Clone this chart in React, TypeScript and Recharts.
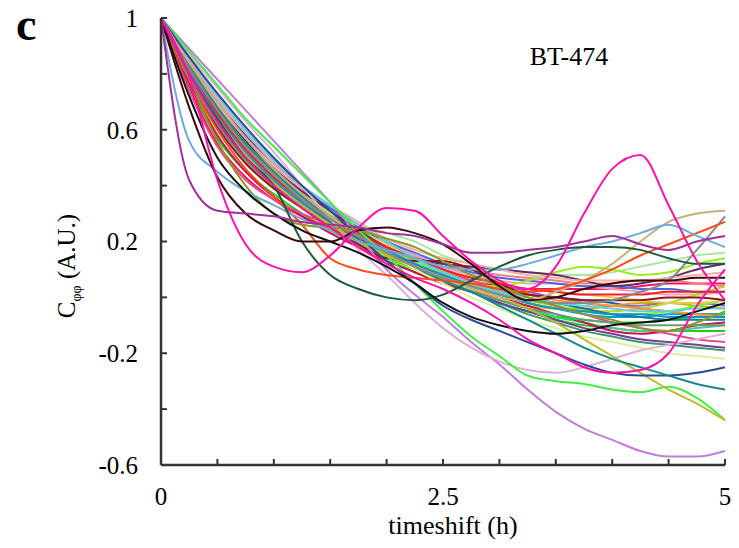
import { LineChart, Line, XAxis, YAxis } from "recharts";

const TIMES = [
  0, 0.25, 0.5, 0.75, 1, 1.25, 1.5, 1.75, 2, 2.25, 2.5, 2.75, 3, 3.25, 3.5,
  3.75, 4, 4.25, 4.5, 4.75, 5,
];

const X_TICKS = [0, 0.5, 1, 1.5, 2, 2.5, 3, 3.5, 4, 4.5, 5];
const X_LABELS = ["0", "2.5", "5"];
const Y_TICKS = [-0.6, -0.4, -0.2, 0, 0.2, 0.4, 0.6, 0.8, 1];
const Y_LABELS = ["-0.6", "-0.2", "0.2", "0.6", "1"];

// the bulk of cells, drawn first
const BULK_VALUES: number[][] = [
  [1, 0.85, 0.7, 0.58, 0.48, 0.39, 0.32, 0.25, 0.2, 0.15, 0.1, 0.06, 0.03, 0.01, 0.0, -0.01, -0.02, -0.04, -0.05, -0.06, -0.06],
  [1, 0.82, 0.66, 0.53, 0.43, 0.35, 0.28, 0.22, 0.16, 0.11, 0.07, 0.04, 0.01, -0.02, -0.04, -0.06, -0.07, -0.07, -0.06, -0.06, -0.07],
  [1, 0.76, 0.57, 0.45, 0.37, 0.3, 0.24, 0.19, 0.14, 0.09, 0.05, 0.02, -0.02, -0.05, -0.08, -0.1, -0.11, -0.12, -0.12, -0.12, -0.12],
  [1, 0.75, 0.55, 0.43, 0.35, 0.29, 0.25, 0.21, 0.17, 0.13, 0.09, 0.06, 0.04, 0.03, 0.03, 0.03, 0.03, 0.04, 0.05, 0.05, 0.05],
  [1, 0.81, 0.64, 0.51, 0.41, 0.34, 0.28, 0.22, 0.17, 0.14, 0.12, 0.1, 0.08, 0.07, 0.06, 0.05, 0.05, 0.06, 0.06, 0.05, 0.04],
  [1, 0.79, 0.62, 0.49, 0.39, 0.32, 0.26, 0.2, 0.15, 0.1, 0.06, 0.02, -0.01, -0.03, -0.04, -0.04, -0.03, -0.02, -0.02, -0.03, -0.04],
  [1, 0.84, 0.69, 0.56, 0.45, 0.37, 0.3, 0.23, 0.17, 0.12, 0.07, 0.03, -0.01, -0.04, -0.07, -0.09, -0.11, -0.12, -0.12, -0.11, -0.1],
  [1, 0.81, 0.65, 0.53, 0.43, 0.36, 0.3, 0.24, 0.19, 0.15, 0.11, 0.08, 0.05, 0.02, 0.0, -0.02, -0.03, -0.03, -0.02, -0.02, -0.03],
  [1, 0.77, 0.58, 0.45, 0.36, 0.29, 0.23, 0.18, 0.13, 0.09, 0.05, 0.02, 0.0, -0.03, -0.06, -0.09, -0.12, -0.13, -0.12, -0.1, -0.09],
  [1, 0.8, 0.63, 0.5, 0.4, 0.33, 0.27, 0.21, 0.16, 0.11, 0.06, 0.02, -0.02, -0.05, -0.07, -0.08, -0.09, -0.09, -0.08, -0.07, -0.06],
  [1, 0.85, 0.71, 0.59, 0.48, 0.39, 0.32, 0.26, 0.2, 0.15, 0.11, 0.08, 0.06, 0.05, 0.05, 0.04, 0.03, 0.02, 0.01, 0.01, 0.02],
  [1, 0.82, 0.66, 0.53, 0.42, 0.34, 0.28, 0.22, 0.17, 0.12, 0.08, 0.04, 0.01, -0.02, -0.04, -0.05, -0.05, -0.04, -0.02, 0.01, 0.04],
  [1, 0.81, 0.65, 0.52, 0.42, 0.34, 0.28, 0.22, 0.16, 0.11, 0.06, 0.02, -0.02, -0.06, -0.09, -0.12, -0.14, -0.16, -0.17, -0.18, -0.19],
  [1, 0.84, 0.69, 0.57, 0.47, 0.39, 0.32, 0.26, 0.2, 0.16, 0.12, 0.09, 0.07, 0.06, 0.05, 0.04, 0.04, 0.03, 0.03, 0.02, 0.02],
  [1, 0.79, 0.62, 0.49, 0.4, 0.33, 0.27, 0.22, 0.17, 0.13, 0.09, 0.06, 0.03, 0.01, -0.01, -0.02, -0.03, -0.04, -0.05, -0.06, -0.07],
  [1, 0.83, 0.67, 0.55, 0.45, 0.37, 0.29, 0.22, 0.16, 0.11, 0.06, 0.02, -0.02, -0.05, -0.08, -0.11, -0.13, -0.15, -0.16, -0.17, -0.18],
  [1, 0.81, 0.65, 0.52, 0.43, 0.35, 0.29, 0.23, 0.18, 0.13, 0.09, 0.05, 0.02, -0.01, -0.03, -0.05, -0.06, -0.06, -0.05, -0.03, -0.01],
  [1, 0.8, 0.63, 0.5, 0.41, 0.34, 0.27, 0.21, 0.16, 0.12, 0.08, 0.05, 0.02, 0.0, -0.02, -0.04, -0.06, -0.07, -0.08, -0.08, -0.08],
  [1, 0.74, 0.54, 0.42, 0.35, 0.3, 0.26, 0.22, 0.18, 0.14, 0.1, 0.06, 0.03, 0.0, -0.03, -0.06, -0.09, -0.11, -0.13, -0.15, -0.16],
  [1, 0.84, 0.69, 0.57, 0.46, 0.38, 0.3, 0.24, 0.19, 0.14, 0.1, 0.07, 0.05, 0.03, 0.02, 0.01, 0.0, -0.01, -0.02, -0.02, -0.01],
  [1, 0.81, 0.65, 0.52, 0.43, 0.36, 0.3, 0.26, 0.23, 0.2, 0.15, 0.12, 0.1, 0.09, 0.08, 0.08, 0.09, 0.11, 0.13, 0.15, 0.16],
  [1, 0.79, 0.61, 0.48, 0.39, 0.32, 0.25, 0.19, 0.14, 0.1, 0.06, 0.04, 0.04, 0.06, 0.09, 0.11, 0.1, 0.08, 0.09, 0.12, 0.14],
  [1, 0.84, 0.69, 0.56, 0.46, 0.38, 0.31, 0.24, 0.18, 0.14, 0.12, 0.11, 0.1, 0.09, 0.08, 0.06, 0.04, 0.05, 0.07, 0.1, 0.12],
  [1, 0.79, 0.61, 0.48, 0.39, 0.32, 0.25, 0.19, 0.14, 0.13, 0.13, 0.1, 0.05, 0.01, 0.0, -0.01, -0.01, -0.01, 0.0, 0.0, -0.01],
  [1, 0.81, 0.65, 0.52, 0.42, 0.34, 0.28, 0.22, 0.17, 0.12, 0.08, 0.04, 0.01, -0.02, -0.04, -0.05, -0.06, -0.06, -0.07, -0.07, -0.07],
  [1, 0.79, 0.62, 0.49, 0.4, 0.33, 0.26, 0.2, 0.15, 0.1, 0.06, 0.02, -0.01, -0.04, -0.06, -0.08, -0.09, -0.1, -0.1, -0.1, -0.1],
  [1, 0.82, 0.66, 0.53, 0.43, 0.35, 0.29, 0.23, 0.18, 0.14, 0.1, 0.07, 0.05, 0.03, 0.02, 0.01, 0.01, 0.01, 0.02, 0.02, 0.02],
  [1, 0.84, 0.68, 0.55, 0.45, 0.36, 0.29, 0.22, 0.16, 0.1, 0.05, 0.0, -0.04, -0.08, -0.11, -0.14, -0.16, -0.18, -0.2, -0.21, -0.22],
  [1, 0.84, 0.69, 0.57, 0.47, 0.39, 0.33, 0.27, 0.21, 0.17, 0.14, 0.12, 0.1, 0.08, 0.07, 0.06, 0.06, 0.06, 0.07, 0.08, 0.09],
  [1, 0.86, 0.72, 0.6, 0.49, 0.4, 0.33, 0.26, 0.2, 0.14, 0.09, 0.05, 0.02, 0.0, -0.02, -0.03, -0.04, -0.05, -0.05, -0.04, -0.04],
];

const BULK_COLORS = [
  "#1f5fa8", "#0aa0d8", "#22cc22", "#ff1166", "#f08080", "#c8b400",
  "#4cc8a0", "#8c6cd0", "#cc1155", "#00ee33", "#f4a0b4", "#b8d830",
  "#3a9a6a", "#4a6ae0", "#ff9930", "#7a3a9a", "#66ff33", "#108090",
  "#e0508a", "#e8c850", "#a8e8a0", "#99ee22", "#5a2a6a", "#8b1a1a",
  "#1a90d0", "#6a9a7a", "#ee2222", "#d8f0a0", "#f8b0a0", "#60d0e0",
];

// cells that stand out from the bunch, drawn on top
const OUTLIER_VALUES: number[][] = [
  // orchid
  [1, 0.89, 0.78, 0.67, 0.56, 0.45, 0.34, 0.22, 0.1, 0.01, -0.07, -0.16, -0.24, -0.33, -0.41, -0.47, -0.51, -0.55, -0.57, -0.57, -0.55],
  // thistle
  [1, 0.87, 0.75, 0.63, 0.52, 0.4, 0.28, 0.17, 0.08, -0.02, -0.11, -0.18, -0.23, -0.26, -0.27, -0.25, -0.22, -0.19, -0.17, -0.15, -0.13],
  // bright green
  [1, 0.88, 0.76, 0.64, 0.54, 0.44, 0.34, 0.24, 0.15, 0.05, -0.05, -0.14, -0.21, -0.28, -0.3, -0.31, -0.33, -0.34, -0.32, -0.36, -0.44],
  // olive yellow
  [1, 0.8, 0.64, 0.51, 0.41, 0.33, 0.26, 0.2, 0.15, 0.11, 0.07, 0.04, 0.0, -0.04, -0.09, -0.15, -0.21, -0.27, -0.33, -0.38, -0.44],
  // dark blue
  [1, 0.86, 0.73, 0.61, 0.5, 0.4, 0.31, 0.22, 0.13, 0.05, -0.03, -0.08, -0.12, -0.16, -0.2, -0.24, -0.27, -0.28, -0.28, -0.27, -0.25],
  // teal
  [1, 0.83, 0.68, 0.55, 0.45, 0.36, 0.29, 0.22, 0.16, 0.11, 0.06, 0.02, -0.03, -0.08, -0.13, -0.18, -0.22, -0.25, -0.28, -0.31, -0.33],
  // tan
  [1, 0.84, 0.7, 0.57, 0.46, 0.37, 0.29, 0.22, 0.16, 0.11, 0.07, 0.03, 0.0, -0.01, 0.02, 0.06, 0.12, 0.2, 0.27, 0.3, 0.31],
  // gray
  [1, 0.82, 0.67, 0.54, 0.44, 0.35, 0.28, 0.22, 0.16, 0.11, 0.07, 0.04, 0.01, -0.01, -0.02, -0.02, -0.01, 0.02, 0.06, 0.17, 0.29],
  // orange red
  [1, 0.78, 0.6, 0.46, 0.36, 0.26, 0.14, 0.1, 0.08, 0.07, 0.06, 0.05, 0.03, 0.02, 0.03, 0.06, 0.1, 0.15, 0.19, 0.23, 0.27],
  // dark olive
  [1, 0.78, 0.56, 0.4, 0.3, 0.26, 0.25, 0.24, 0.21, 0.18, 0.13, 0.08, 0.04, 0.0, -0.03, -0.06, -0.08, -0.11, -0.12, -0.09, -0.05],
  // light blue
  [1, 0.56, 0.45, 0.38, 0.33, 0.28, 0.24, 0.2, 0.17, 0.14, 0.11, 0.1, 0.1, 0.12, 0.15, 0.18, 0.2, 0.23, 0.26, 0.22, 0.18],
  // dark green
  [1, 0.8, 0.64, 0.5, 0.4, 0.2, 0.08, 0.03, 0.0, -0.01, 0.01, 0.06, 0.11, 0.15, 0.17, 0.18, 0.18, 0.17, 0.14, 0.12, 0.12],
  // black
  [1, 0.72, 0.5, 0.38, 0.3, 0.24, 0.2, 0.16, 0.11, 0.05, -0.02, -0.07, -0.1, -0.12, -0.13, -0.12, -0.1, -0.09, -0.08, -0.05, -0.02],
  // dark brown
  [1, 0.68, 0.43, 0.3, 0.24, 0.2, 0.2, 0.24, 0.25, 0.23, 0.19, 0.12, 0.04, -0.01, 0.0, 0.03, 0.05, 0.06, 0.06, 0.07, 0.07],
  // purple
  [1, 0.42, 0.31, 0.3, 0.29, 0.27, 0.26, 0.25, 0.23, 0.22, 0.19, 0.16, 0.16, 0.17, 0.18, 0.2, 0.22, 0.19, 0.17, 0.2, 0.22],
  // magenta, dips low
  [1, 0.8, 0.63, 0.5, 0.4, 0.32, 0.25, 0.18, 0.12, 0.07, 0.03, -0.02, -0.08, -0.15, -0.2, -0.25, -0.27, -0.26, -0.2, -0.03, 0.1],
  // magenta, two bumps
  [1, 0.79, 0.42, 0.19, 0.11, 0.09, 0.15, 0.25, 0.32, 0.31, 0.22, 0.13, 0.06, 0.03, 0.11, 0.3, 0.46, 0.51, 0.33, 0.13, -0.01],
];

const OUTLIER_COLORS = [
  "#c27ed6", "#dcb2d6", "#44ee44", "#bcbc2a", "#2a4a92", "#168a8a",
  "#c8b07a", "#8a8a8a", "#ff4a1a", "#8a9a20", "#70aad8", "#1a5a3a",
  "#111111", "#3a0a0a", "#a0309a", "#ff11aa", "#ff11aa",
];

const ALL_VALUES = [...BULK_VALUES, ...OUTLIER_VALUES];
const ALL_COLORS = [...BULK_COLORS, ...OUTLIER_COLORS];

const chartData = TIMES.map((t, i) => {
  const row: Record<string, number> = { t };
  ALL_VALUES.forEach((series, k) => {
    row[`s${k}`] = series[i];
  });
  return row;
});

const FONT = "'Liberation Serif', 'Times New Roman', serif";
const AXIS = "#333333";

const fmt = (labels: string[]) => (v: number) => {
  const s = String(Math.round(v * 10) / 10);
  return labels.includes(s) ? s : "";
};

export default function App() {
  return (
    <div
      style={{
        position: "absolute",
        left: 0,
        top: 0,
        width: 739,
        height: 548,
        background: "#fff",
        fontFamily: FONT,
      }}
    >
      <LineChart
        width={739}
        height={548}
        data={chartData}
        margin={{ top: 18, right: 14, bottom: 43, left: 0 }}
      >
        <XAxis
          dataKey="t"
          type="number"
          domain={[0, 5]}
          ticks={X_TICKS}
          interval={0}
          tickFormatter={fmt(X_LABELS)}
          height={40}
          tickSize={-6}
          tickMargin={28}
          axisLine={{ stroke: AXIS, strokeWidth: 2.5 }}
          tickLine={{ stroke: AXIS, strokeWidth: 2 }}
          tick={{ fill: "#000", fontSize: 25, fontFamily: FONT }}
        />
        <YAxis
          type="number"
          domain={[-0.6, 1]}
          ticks={Y_TICKS}
          interval={0}
          tickFormatter={fmt(Y_LABELS)}
          width={161}
          tickSize={-6}
          tickMargin={29}
          axisLine={{ stroke: AXIS, strokeWidth: 2.5 }}
          tickLine={{ stroke: AXIS, strokeWidth: 2 }}
          tick={{ fill: "#000", fontSize: 25, fontFamily: FONT }}
        />
        {ALL_VALUES.map((_, k) => (
          <Line
            key={k}
            dataKey={`s${k}`}
            type="monotone"
            stroke={ALL_COLORS[k]}
            strokeWidth={2}
            dot={false}
            activeDot={false}
            isAnimationActive={false}
          />
        ))}
      </LineChart>
      <svg
        width={739}
        height={548}
        style={{ position: "absolute", left: 0, top: 0, pointerEvents: "none" }}
      >
        <text x={16} y={40} fontSize={46} fontWeight="bold" fontFamily={FONT}>
          c
        </text>
        <text x={569} y={65} fontSize={26} textAnchor="middle" fontFamily={FONT}>
          BT-474
        </text>
        <text x={453} y={534} fontSize={26} textAnchor="middle" fontFamily={FONT}>
          timeshift (h)
        </text>
        <text
          transform="translate(75,266) rotate(-90)"
          fontSize={25}
          textAnchor="middle"
          fontFamily={FONT}
        >
          C
          <tspan fontSize={14} dy={6}>
            φφ
          </tspan>
          <tspan dy={-6}> (A.U.)</tspan>
        </text>
      </svg>
    </div>
  );
}
